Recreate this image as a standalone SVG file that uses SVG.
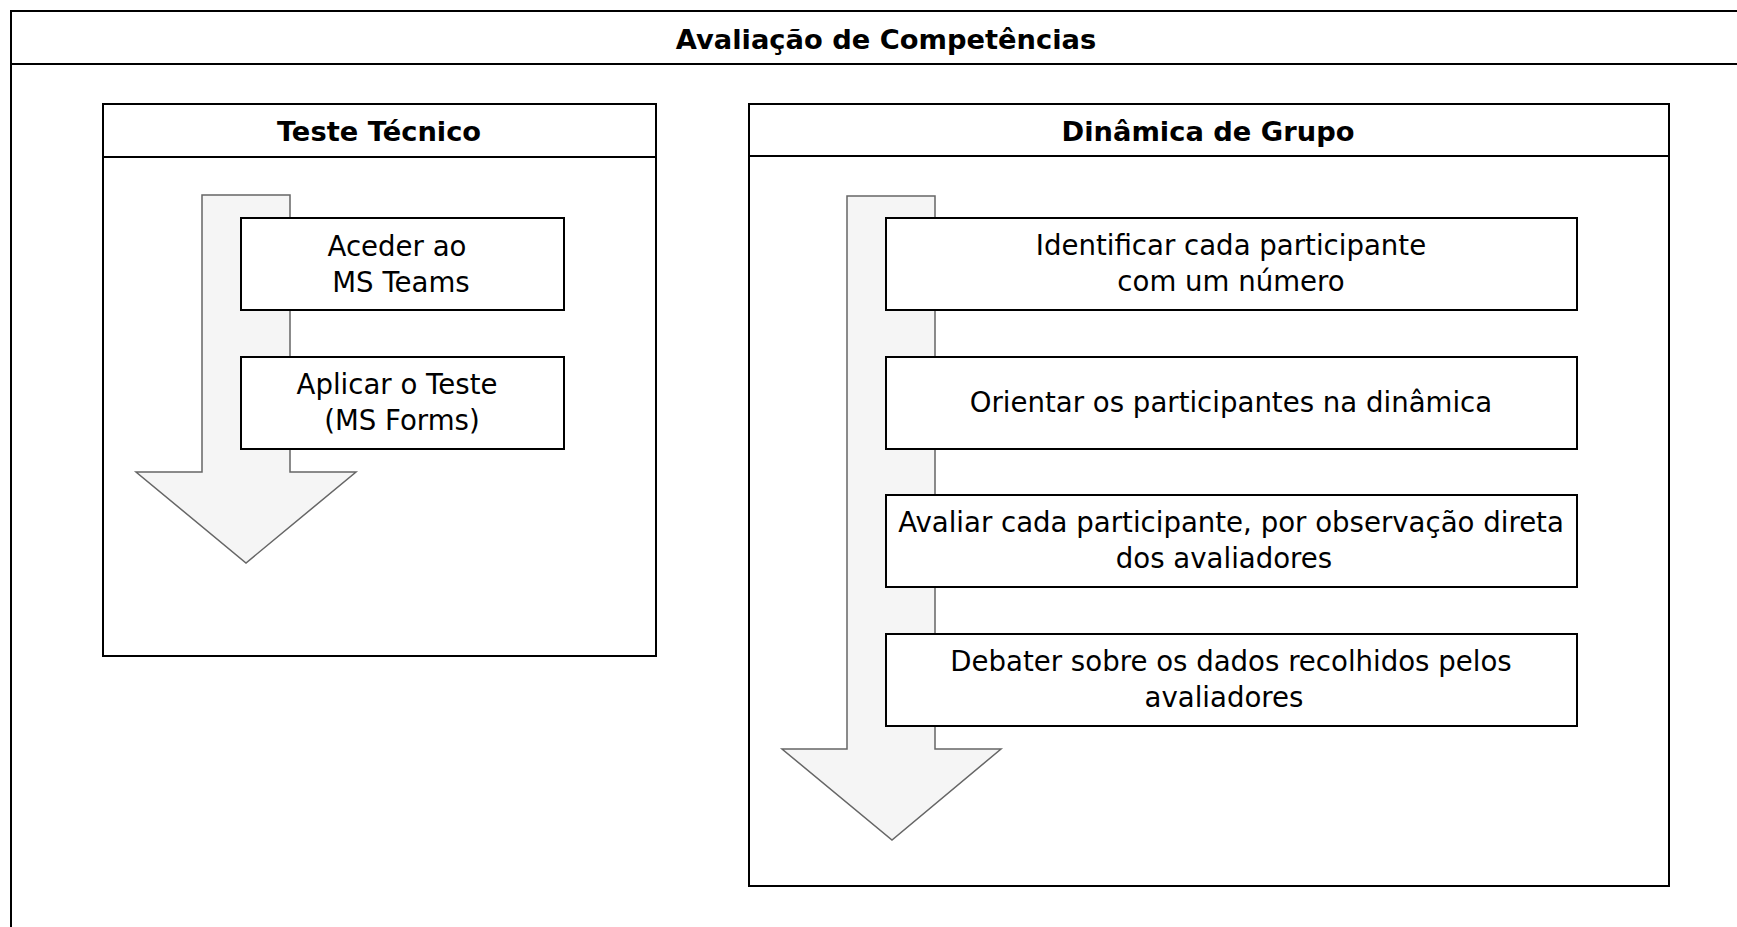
<svg xmlns="http://www.w3.org/2000/svg" width="1737" height="927" viewBox="0 0 1737 927">
<style>
.frame{fill:#ffffff;stroke:#000000;stroke-width:2}
.box{fill:#ffffff;stroke:#000000;stroke-width:2}
.arrow{fill:#f5f5f5;stroke:#666666;stroke-width:1.5}
.hdr{font-family:"DejaVu Sans",Verdana,sans-serif;font-size:27.3px;font-weight:bold;fill:#000000;text-anchor:middle}
.txt{font-family:"DejaVu Sans",Verdana,sans-serif;font-size:27.6px;fill:#000000;text-anchor:middle}
</style>
<rect x="0" y="0" width="1737" height="927" fill="#ffffff"/>
<g id="outer">
<rect class="frame" x="11" y="11" width="1740" height="930"/>
<line x1="11" y1="64" x2="1737" y2="64" stroke="#000" stroke-width="2"/>
<text class="hdr" x="886" y="49">Avaliação de Competências</text>
</g>
<g id="teste-tecnico">
<rect class="frame" x="103" y="104" width="553" height="552"/>
<line x1="103" y1="157" x2="656" y2="157" stroke="#000" stroke-width="2"/>
<text class="hdr" x="379" y="141">Teste Técnico</text>
</g>
<g id="dinamica-grupo">
<rect class="frame" x="749" y="104" width="920" height="782"/>
<line x1="749" y1="156" x2="1669" y2="156" stroke="#000" stroke-width="2"/>
<text class="hdr" x="1208" y="141">Dinâmica de Grupo</text>
</g>
<g id="connectors">
<polygon id="arrow-teste" class="arrow" points="202,195 290,195 290,472 356,472 246,563 136,472 202,472"/>
<polygon id="arrow-dinamica" class="arrow" points="847,196 935,196 935,749 1001,749 892,840 782,749 847,749"/>
</g>
<g id="aceder">
<rect class="box" x="241" y="218" width="323" height="92"/>
<text class="txt" x="397" y="256">Aceder ao</text>
<text class="txt" x="401" y="292">MS Teams</text>
</g>
<g id="aplicar">
<rect class="box" x="241" y="357" width="323" height="92"/>
<text class="txt" x="397" y="394">Aplicar o Teste</text>
<text class="txt" x="402" y="430">(MS Forms)</text>
</g>
<g id="identificar">
<rect class="box" x="886" y="218" width="691" height="92"/>
<text class="txt" x="1231" y="255">Identificar cada participante</text>
<text class="txt" x="1231" y="291">com um número</text>
</g>
<g id="orientar">
<rect class="box" x="886" y="357" width="691" height="92"/>
<text class="txt" x="1231" y="412">Orientar os participantes na dinâmica</text>
</g>
<g id="avaliar">
<rect class="box" x="886" y="495" width="691" height="92"/>
<text class="txt" x="1231" y="532">Avaliar cada participante, por observação direta</text>
<text class="txt" x="1224" y="568">dos avaliadores</text>
</g>
<g id="debater">
<rect class="box" x="886" y="634" width="691" height="92"/>
<text class="txt" x="1231" y="671">Debater sobre os dados recolhidos pelos</text>
<text class="txt" x="1224" y="707">avaliadores</text>
</g>
</svg>
